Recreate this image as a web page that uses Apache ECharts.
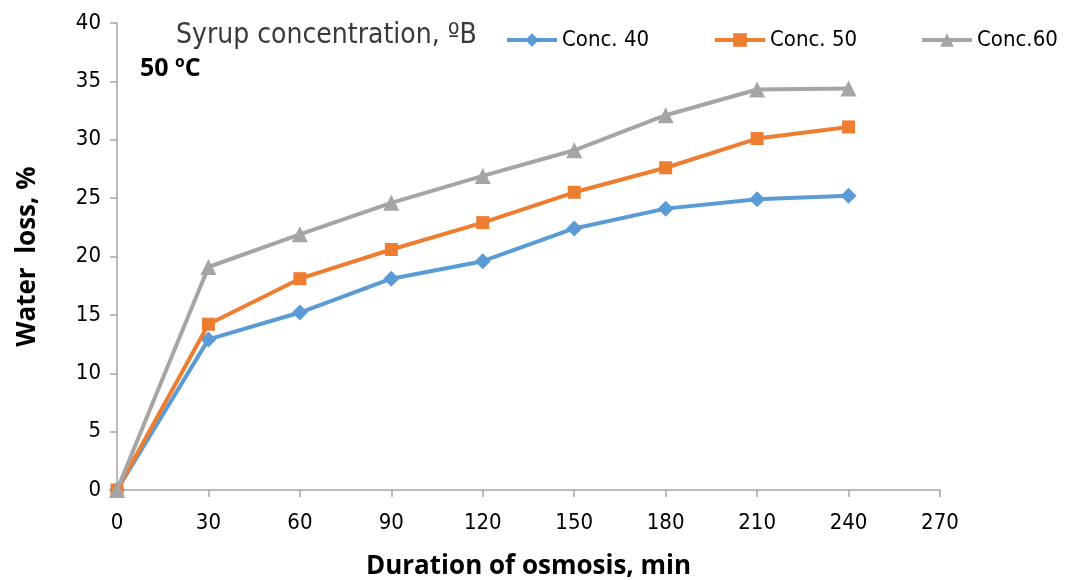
<!DOCTYPE html>
<html>
<head>
<meta charset="utf-8">
<script src="https://cdn.jsdelivr.net/npm/echarts@6/dist/echarts.min.js"></script>
<style>
  html, body { margin: 0; padding: 0; background: #fff; }
  #chart { width: 1068px; height: 580px; }
</style>
</head>
<body>
<div id="chart"></div>
<script>
// Osmotic dehydration at 50 ºC: water loss over time for three syrup concentrations
const durations = [0, 30, 60, 90, 120, 150, 180, 210, 240];
const conc40 = [0, 12.9, 15.2, 18.1, 19.6, 22.4, 24.1, 24.9, 25.2];
const conc50 = [0, 14.2, 18.1, 20.6, 22.9, 25.5, 27.6, 30.1, 31.1];
const conc60 = [0, 19.1, 21.9, 24.6, 26.9, 29.1, 32.1, 34.3, 34.4];
const seriesNames = ['Conc. 40', 'Conc. 50', 'Conc.60'];
const seriesColors = ['#5b9bd5', '#ed7d31', '#a5a5a5'];
const seriesSymbols = ['diamond', 'rect', 'triangle'];
const seriesSymbolSizes = [16, 13, 16];
const legendLefts = [505, 713, 920];

const FONT = '"Liberation Sans Narrow", "DejaVu Sans Condensed", "Open Sans", sans-serif';
const BOLD_FONT = '"Open Sans", "Noto Sans", sans-serif';

const chart = echarts.init(document.getElementById('chart'), null, { renderer: 'canvas' });

const pairs = arr => durations.map((t, i) => [t, arr[i]]);
const allData = [conc40, conc50, conc60];

// one legend block per series so each entry sits at its own spot
const legends = seriesNames.map((name, i) => ({
  top: 29,
  left: legendLefts[i],
  padding: 0,
  itemWidth: 50,
  itemHeight: 17,
  itemGap: 0,
  lineStyle: { width: 4 },
  textStyle: { fontFamily: FONT, fontSize: 22, color: '#000' },
  data: [name]
}));

chart.setOption({
  backgroundColor: '#ffffff',
  animation: false,
  grid: { left: 117, right: 128, top: 23, bottom: 90, containLabel: false, outerBoundsMode: 'none' },
  legend: legends,
  graphic: [
    {
      type: 'text', left: 176, top: 22,
      style: { text: 'Syrup concentration, ºB', fontFamily: FONT, fontSize: 28, fontWeight: 300, fill: '#3a3a3a' }
    },
    {
      type: 'text', left: 140, top: 56,
      style: { text: '50 ºC', fontFamily: BOLD_FONT, fontSize: 25, fontWeight: 'bold', fill: '#000' }
    }
  ],
  xAxis: {
    type: 'value',
    min: 0, max: 270, interval: 30,
    name: 'Duration of osmosis, min',
    nameLocation: 'middle',
    nameGap: 64,
    nameTextStyle: { fontFamily: BOLD_FONT, fontSize: 26, fontWeight: 'bold', color: '#000' },
    axisLine: { show: true, lineStyle: { color: '#a6a6a6', width: 1.5 } },
    axisTick: { show: true, length: 7, lineStyle: { color: '#a6a6a6', width: 1.5 } },
    axisLabel: { fontFamily: FONT, fontSize: 22, color: '#000', margin: 22 },
    splitLine: { show: false }
  },
  yAxis: {
    type: 'value',
    min: 0, max: 40, interval: 5,
    name: 'Water  loss, %',
    nameLocation: 'middle',
    nameGap: 76,
    nameTextStyle: { fontFamily: BOLD_FONT, fontSize: 26, fontWeight: 'bold', color: '#000' },
    axisLine: { show: true, lineStyle: { color: '#a6a6a6', width: 1.5 } },
    axisTick: { show: true, length: 7, lineStyle: { color: '#a6a6a6', width: 1.5 } },
    axisLabel: { fontFamily: FONT, fontSize: 22, color: '#000', margin: 16 },
    splitLine: { show: false }
  },
  series: seriesNames.map((name, i) => ({
    name,
    type: 'line',
    data: pairs(allData[i]),
    symbol: seriesSymbols[i],
    symbolSize: seriesSymbolSizes[i],
    showAllSymbol: true,
    lineStyle: { color: seriesColors[i], width: 4 },
    itemStyle: { color: seriesColors[i] },
    emphasis: { disabled: true },
    z: 2 + i
  }))
});
</script>
</body>
</html>
